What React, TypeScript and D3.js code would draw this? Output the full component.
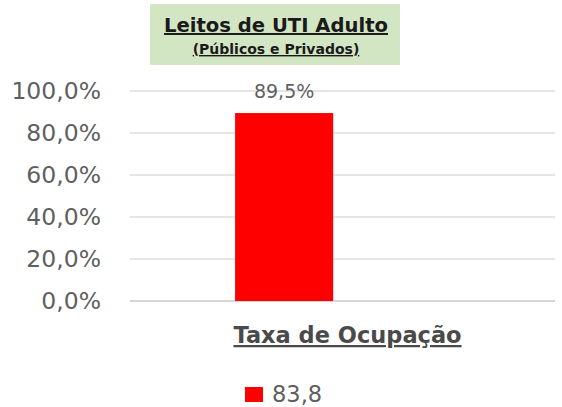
import React from 'react';
import * as d3 from 'd3';

const categories = ['Taxa de Ocupação'];
const seriesNames = ['83,8', ''];
const values = [89.5];
const yTicks = [0, 20, 40, 60, 80, 100];

const W = 562;
const H = 407;
const font = '"DejaVu Sans", sans-serif';

export default function App() {
  const y = d3.scaleLinear().domain([0, 100]).range([301, 91]);
  const x = d3.scaleBand().domain(categories).range([130, 555]).padding(0);
  const xs = d3.scaleBand().domain(seriesNames).range([0, x.bandwidth()]).paddingInner(0.16).paddingOuter(0.9);
  const fmt = (v: number) => v.toFixed(1).replace('.', ',') + '%';

  return (
    <svg width={W} height={H} style={{ position: 'absolute', left: 0, top: 0, background: '#fff' }} fontFamily={font}>
      {/* title box */}
      <rect x={150} y={4} width={250} height={61} fill="#d3e6c4" />
      <text x={276} y={32} textAnchor="middle" fontSize={19.6} fontWeight="bold" fill="#1a1a1a" style={{ textDecoration: 'underline' }}>
        Leitos de UTI Adulto
      </text>
      <text x={276} y={54} textAnchor="middle" fontSize={14} fontWeight="bold" fill="#1a1a1a" style={{ textDecoration: 'underline' }}>
        (Públicos e Privados)
      </text>

      {/* gridlines + y labels */}
      {yTicks.map(t => (
        <g key={t}>
          <line x1={130} x2={555} y1={y(t)} y2={y(t)} stroke={t === 0 ? '#c8c8c8' : '#dcdcdc'} strokeWidth={1.5} />
          <text x={101} y={y(t)} dy="0.36em" textAnchor="end" fontSize={23.5} fill="#5f5f5f">{fmt(t)}</text>
        </g>
      ))}

      {/* bars */}
      {categories.map(c => values.map((v, i) => {
        const bx = (x(c) ?? 0) + (xs(seriesNames[i]) ?? 0);
        return (
          <g key={c + i}>
            <rect x={bx} y={y(v)} width={xs.bandwidth()} height={y(0) - y(v)} fill="#ff0000" />
            <text x={bx + xs.bandwidth() / 2} y={y(v) - 15} textAnchor="middle" fontSize={19} fill="#5f5f5f">{fmt(v)}</text>
          </g>
        );
      }))}

      {/* category label */}
      {categories.map(c => (
        <text key={c} x={(x(c) ?? 0) + x.bandwidth() / 2 + 5} y={343} textAnchor="middle" fontSize={22.5} fontWeight="bold" fill="#4a4a4a" style={{ textDecoration: 'underline' }}>
          {c}
        </text>
      ))}

      {/* legend */}
      <rect x={245} y={387} width={18} height={15} fill="#ff0000" />
      <text x={272} y={402} fontSize={22.5} fill="#5f5f5f">{seriesNames[0]}</text>
    </svg>
  );
}
